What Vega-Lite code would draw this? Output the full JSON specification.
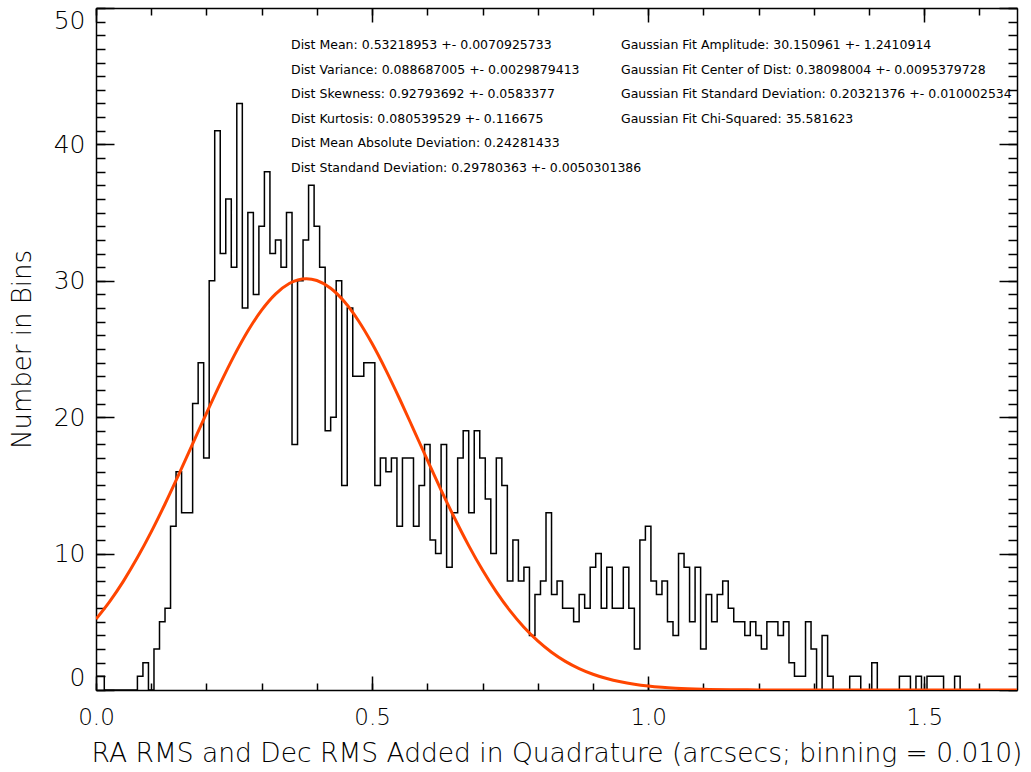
{
  "$schema": "https://vega.github.io/schema/vega-lite/v6.json",
  "width": 921,
  "height": 682,
  "autosize": {"type": "none"},
  "padding": {"left": 96, "top": 8, "right": 14, "bottom": 82},
  "background": "white",
  "config": {
    "view": {"stroke": null},
    "axis": {
      "grid": false,
      "domainColor": "black",
      "domainWidth": 1.5,
      "tickColor": "black",
      "tickWidth": 1.5,
      "labelColor": "black",
      "titleColor": "black",
      "labelFont": "DejaVu Sans",
      "titleFont": "DejaVu Sans",
      "labelFontWeight": 200,
      "titleFontWeight": 200,
      "labelOverlap": false,
      "labelFlush": false,
      "zindex": 1
    }
  },
  "datasets": {
    "hist": [
      {"arcsec": 0.00, "count": 1}, {"arcsec": 0.01, "count": 1}, {"arcsec": 0.02, "count": 0},
      {"arcsec": 0.03, "count": 0}, {"arcsec": 0.04, "count": 0}, {"arcsec": 0.05, "count": 0},
      {"arcsec": 0.06, "count": 0}, {"arcsec": 0.07, "count": 0}, {"arcsec": 0.08, "count": 1},
      {"arcsec": 0.09, "count": 2}, {"arcsec": 0.10, "count": 0}, {"arcsec": 0.11, "count": 3},
      {"arcsec": 0.12, "count": 5}, {"arcsec": 0.13, "count": 6}, {"arcsec": 0.14, "count": 12},
      {"arcsec": 0.15, "count": 16}, {"arcsec": 0.16, "count": 13}, {"arcsec": 0.17, "count": 13},
      {"arcsec": 0.18, "count": 21}, {"arcsec": 0.19, "count": 24}, {"arcsec": 0.20, "count": 17},
      {"arcsec": 0.21, "count": 30}, {"arcsec": 0.22, "count": 41}, {"arcsec": 0.23, "count": 32},
      {"arcsec": 0.24, "count": 36}, {"arcsec": 0.25, "count": 31}, {"arcsec": 0.26, "count": 43},
      {"arcsec": 0.27, "count": 28}, {"arcsec": 0.28, "count": 35}, {"arcsec": 0.29, "count": 29},
      {"arcsec": 0.30, "count": 34}, {"arcsec": 0.31, "count": 38}, {"arcsec": 0.32, "count": 32},
      {"arcsec": 0.33, "count": 33}, {"arcsec": 0.34, "count": 31}, {"arcsec": 0.35, "count": 35},
      {"arcsec": 0.36, "count": 18}, {"arcsec": 0.37, "count": 30}, {"arcsec": 0.38, "count": 33},
      {"arcsec": 0.39, "count": 37}, {"arcsec": 0.40, "count": 34}, {"arcsec": 0.41, "count": 31},
      {"arcsec": 0.42, "count": 19}, {"arcsec": 0.43, "count": 20}, {"arcsec": 0.44, "count": 30},
      {"arcsec": 0.45, "count": 15}, {"arcsec": 0.46, "count": 28}, {"arcsec": 0.47, "count": 23},
      {"arcsec": 0.48, "count": 23}, {"arcsec": 0.49, "count": 24}, {"arcsec": 0.50, "count": 24},
      {"arcsec": 0.51, "count": 15}, {"arcsec": 0.52, "count": 17}, {"arcsec": 0.53, "count": 16},
      {"arcsec": 0.54, "count": 17}, {"arcsec": 0.55, "count": 12}, {"arcsec": 0.56, "count": 17},
      {"arcsec": 0.57, "count": 17}, {"arcsec": 0.58, "count": 12}, {"arcsec": 0.59, "count": 15},
      {"arcsec": 0.60, "count": 18}, {"arcsec": 0.61, "count": 11}, {"arcsec": 0.62, "count": 10},
      {"arcsec": 0.63, "count": 18}, {"arcsec": 0.64, "count": 9}, {"arcsec": 0.65, "count": 13},
      {"arcsec": 0.66, "count": 17}, {"arcsec": 0.67, "count": 19}, {"arcsec": 0.68, "count": 13},
      {"arcsec": 0.69, "count": 19}, {"arcsec": 0.70, "count": 17}, {"arcsec": 0.71, "count": 14},
      {"arcsec": 0.72, "count": 10}, {"arcsec": 0.73, "count": 17}, {"arcsec": 0.74, "count": 15},
      {"arcsec": 0.75, "count": 8}, {"arcsec": 0.76, "count": 11}, {"arcsec": 0.77, "count": 8},
      {"arcsec": 0.78, "count": 9}, {"arcsec": 0.79, "count": 4}, {"arcsec": 0.80, "count": 7},
      {"arcsec": 0.81, "count": 8}, {"arcsec": 0.82, "count": 13}, {"arcsec": 0.83, "count": 7},
      {"arcsec": 0.84, "count": 8}, {"arcsec": 0.85, "count": 6}, {"arcsec": 0.86, "count": 6},
      {"arcsec": 0.87, "count": 5}, {"arcsec": 0.88, "count": 7}, {"arcsec": 0.89, "count": 6},
      {"arcsec": 0.90, "count": 9}, {"arcsec": 0.91, "count": 10}, {"arcsec": 0.92, "count": 6},
      {"arcsec": 0.93, "count": 9}, {"arcsec": 0.94, "count": 6}, {"arcsec": 0.95, "count": 6},
      {"arcsec": 0.96, "count": 9}, {"arcsec": 0.97, "count": 6}, {"arcsec": 0.98, "count": 3},
      {"arcsec": 0.99, "count": 11}, {"arcsec": 1.00, "count": 12}, {"arcsec": 1.01, "count": 8},
      {"arcsec": 1.02, "count": 7}, {"arcsec": 1.03, "count": 8}, {"arcsec": 1.04, "count": 5},
      {"arcsec": 1.05, "count": 4}, {"arcsec": 1.06, "count": 10}, {"arcsec": 1.07, "count": 9},
      {"arcsec": 1.08, "count": 5}, {"arcsec": 1.09, "count": 9}, {"arcsec": 1.10, "count": 3},
      {"arcsec": 1.11, "count": 7}, {"arcsec": 1.12, "count": 5}, {"arcsec": 1.13, "count": 7},
      {"arcsec": 1.14, "count": 8}, {"arcsec": 1.15, "count": 6}, {"arcsec": 1.16, "count": 5},
      {"arcsec": 1.17, "count": 5}, {"arcsec": 1.18, "count": 4}, {"arcsec": 1.19, "count": 5},
      {"arcsec": 1.20, "count": 4}, {"arcsec": 1.21, "count": 3}, {"arcsec": 1.22, "count": 5},
      {"arcsec": 1.23, "count": 5}, {"arcsec": 1.24, "count": 4}, {"arcsec": 1.25, "count": 5},
      {"arcsec": 1.26, "count": 2}, {"arcsec": 1.27, "count": 1}, {"arcsec": 1.28, "count": 1},
      {"arcsec": 1.29, "count": 5}, {"arcsec": 1.30, "count": 3}, {"arcsec": 1.31, "count": 0},
      {"arcsec": 1.32, "count": 4}, {"arcsec": 1.33, "count": 1}, {"arcsec": 1.34, "count": 0},
      {"arcsec": 1.35, "count": 0}, {"arcsec": 1.36, "count": 0}, {"arcsec": 1.37, "count": 1},
      {"arcsec": 1.38, "count": 1}, {"arcsec": 1.39, "count": 0}, {"arcsec": 1.40, "count": 0},
      {"arcsec": 1.41, "count": 2}, {"arcsec": 1.42, "count": 0}, {"arcsec": 1.43, "count": 0},
      {"arcsec": 1.44, "count": 0}, {"arcsec": 1.45, "count": 0}, {"arcsec": 1.46, "count": 1},
      {"arcsec": 1.47, "count": 1}, {"arcsec": 1.48, "count": 0}, {"arcsec": 1.49, "count": 1},
      {"arcsec": 1.50, "count": 0}, {"arcsec": 1.51, "count": 1}, {"arcsec": 1.52, "count": 1},
      {"arcsec": 1.53, "count": 1}, {"arcsec": 1.54, "count": 0}, {"arcsec": 1.55, "count": 0},
      {"arcsec": 1.56, "count": 1}, {"arcsec": 1.57, "count": 0}, {"arcsec": 1.58, "count": 0},
      {"arcsec": 1.59, "count": 0}, {"arcsec": 1.60, "count": 0}, {"arcsec": 1.61, "count": 0},
      {"arcsec": 1.62, "count": 0}, {"arcsec": 1.63, "count": 0}, {"arcsec": 1.64, "count": 0},
      {"arcsec": 1.65, "count": 0}, {"arcsec": 1.66, "count": 0}, {"arcsec": 1.67, "count": 0}
    ],
    "fit": [
      {"arcsec": 0.000, "model": 5.200}, {"arcsec": 0.025, "model": 6.500}, {"arcsec": 0.050, "model": 8.004},
      {"arcsec": 0.075, "model": 9.706}, {"arcsec": 0.100, "model": 11.591}, {"arcsec": 0.125, "model": 13.638},
      {"arcsec": 0.150, "model": 15.804}, {"arcsec": 0.175, "model": 18.039}, {"arcsec": 0.200, "model": 20.281},
      {"arcsec": 0.225, "model": 22.459}, {"arcsec": 0.250, "model": 24.496}, {"arcsec": 0.275, "model": 26.317},
      {"arcsec": 0.300, "model": 27.850}, {"arcsec": 0.325, "model": 29.028}, {"arcsec": 0.350, "model": 29.803},
      {"arcsec": 0.381, "model": 30.151}, {"arcsec": 0.400, "model": 30.019}, {"arcsec": 0.425, "model": 29.452},
      {"arcsec": 0.450, "model": 28.461}, {"arcsec": 0.475, "model": 27.091}, {"arcsec": 0.500, "model": 25.399},
      {"arcsec": 0.525, "model": 23.455}, {"arcsec": 0.550, "model": 21.334}, {"arcsec": 0.575, "model": 19.114},
      {"arcsec": 0.600, "model": 16.868}, {"arcsec": 0.625, "model": 14.662}, {"arcsec": 0.650, "model": 12.552},
      {"arcsec": 0.675, "model": 10.586}, {"arcsec": 0.700, "model": 8.793}, {"arcsec": 0.725, "model": 7.194},
      {"arcsec": 0.750, "model": 5.798}, {"arcsec": 0.775, "model": 4.601}, {"arcsec": 0.800, "model": 3.597},
      {"arcsec": 0.825, "model": 2.770}, {"arcsec": 0.850, "model": 2.101}, {"arcsec": 0.875, "model": 1.570},
      {"arcsec": 0.900, "model": 1.156}, {"arcsec": 0.925, "model": 0.838}, {"arcsec": 0.950, "model": 0.598},
      {"arcsec": 0.975, "model": 0.421}, {"arcsec": 1.000, "model": 0.291}, {"arcsec": 1.025, "model": 0.199},
      {"arcsec": 1.050, "model": 0.134}, {"arcsec": 1.100, "model": 0.058}, {"arcsec": 1.150, "model": 0.023},
      {"arcsec": 1.200, "model": 0.009}, {"arcsec": 1.300, "model": 0.001}, {"arcsec": 1.400, "model": 0.000},
      {"arcsec": 1.500, "model": 0.000}, {"arcsec": 1.600, "model": 0.000}, {"arcsec": 1.668, "model": 0.000}
    ],
    "stats": [
      {"group": "sample", "row": 1, "text": "Dist Mean: 0.53218953 +- 0.0070925733"},
      {"group": "sample", "row": 2, "text": "Dist Variance: 0.088687005 +- 0.0029879413"},
      {"group": "sample", "row": 3, "text": "Dist Skewness: 0.92793692 +- 0.0583377"},
      {"group": "sample", "row": 4, "text": "Dist Kurtosis: 0.080539529 +- 0.116675"},
      {"group": "sample", "row": 5, "text": "Dist Mean Absolute Deviation: 0.24281433"},
      {"group": "sample", "row": 6, "text": "Dist Standand Deviation: 0.29780363 +- 0.0050301386"},
      {"group": "fit", "row": 1, "text": "Gaussian Fit Amplitude: 30.150961 +- 1.2410914"},
      {"group": "fit", "row": 2, "text": "Gaussian Fit Center of Dist: 0.38098004 +- 0.0095379728"},
      {"group": "fit", "row": 3, "text": "Gaussian Fit Standard Deviation: 0.20321376 +- 0.010002534"},
      {"group": "fit", "row": 4, "text": "Gaussian Fit Chi-Squared: 35.581623"}
    ]
  },
  "layer": [
    {
      "data": {"name": "hist"},
      "mark": {"type": "line", "interpolate": "step", "color": "black", "strokeWidth": 1.5, "clip": true},
      "encoding": {
        "x": {
          "field": "arcsec", "type": "quantitative",
          "scale": {"domain": [0, 1.668], "nice": false, "zero": false},
          "axis": {
            "orient": "top",
            "offset": -682,
            "values": [0, 0.5, 1, 1.5],
            "format": ".1f",
            "tickSize": 14,
            "labelPadding": -30,
            "labelBaseline": "top",
            "labelFontSize": 23,
            "title": "RA RMS and Dec RMS Added in Quadrature (arcsecs; binning = 0.010)",
            "titleFontSize": 26.5,
            "titleY": 71,
            "titleBaseline": "alphabetic"
          }
        },
        "y": {
          "field": "count", "type": "quantitative",
          "scale": {"domain": [0, 50], "nice": false, "zero": true},
          "axis": {
            "orient": "right",
            "offset": -921,
            "values": [0, 10, 20, 30, 40, 50],
            "format": "d",
            "tickSize": 18,
            "labelPadding": -29,
            "labelAlign": "right",
            "labelFlush": true,
            "labelFlushOffset": 0,
            "labelFontSize": 25,
            "title": "Number in Bins",
            "titleFontSize": 26,
            "titleAngle": 270,
            "titleX": -74,
            "titleBaseline": "middle"
          }
        }
      }
    },
    {
      "data": {"name": "fit"},
      "mark": {"type": "line", "interpolate": "monotone", "color": "#ff4500", "strokeWidth": 3, "clip": true},
      "encoding": {
        "x": {
          "field": "arcsec", "type": "quantitative",
          "scale": {"domain": [0, 1.668], "nice": false, "zero": false},
          "axis": {"orient": "bottom", "offset": -682, "values": [0, 0.5, 1, 1.5], "tickSize": 14, "labels": false, "title": null}
        },
        "y": {
          "field": "model", "type": "quantitative",
          "scale": {"domain": [0, 50], "nice": false, "zero": true},
          "axis": {"orient": "left", "offset": -921, "values": [0, 10, 20, 30, 40, 50], "tickSize": 18, "labels": false, "title": null}
        }
      }
    },
    {
      "data": {"name": "hist"},
      "mark": {"type": "line", "interpolate": "step", "strokeOpacity": 0, "clip": true},
      "encoding": {
        "x": {
          "field": "arcsec", "type": "quantitative",
          "scale": {"domain": [0, 1.668], "nice": false, "zero": false},
          "axis": {
            "orient": "top", "offset": -682,
            "values": [0, 0.1, 0.2, 0.3, 0.4, 0.5, 0.6, 0.7, 0.8, 0.9, 1, 1.1, 1.2, 1.3, 1.4, 1.5, 1.6],
            "tickSize": 7, "labels": false, "domain": false, "title": null
          }
        },
        "y": {
          "field": "count", "type": "quantitative",
          "scale": {"domain": [0, 50], "nice": false, "zero": true},
          "axis": {
            "orient": "right", "offset": -921,
            "values": [0, 1, 2, 3, 4, 5, 6, 7, 8, 9, 10, 11, 12, 13, 14, 15, 16, 17, 18, 19, 20, 21, 22, 23, 24, 25, 26, 27, 28, 29, 30, 31, 32, 33, 34, 35, 36, 37, 38, 39, 40, 41, 42, 43, 44, 45, 46, 47, 48, 49, 50],
            "tickSize": 9, "labels": false, "domain": false, "title": null
          }
        }
      }
    },
    {
      "data": {"name": "fit"},
      "mark": {"type": "line", "interpolate": "monotone", "strokeOpacity": 0, "clip": true},
      "encoding": {
        "x": {
          "field": "arcsec", "type": "quantitative",
          "scale": {"domain": [0, 1.668], "nice": false, "zero": false},
          "axis": {
            "orient": "bottom", "offset": -682,
            "values": [0, 0.1, 0.2, 0.3, 0.4, 0.5, 0.6, 0.7, 0.8, 0.9, 1, 1.1, 1.2, 1.3, 1.4, 1.5, 1.6],
            "tickSize": 7, "labels": false, "domain": false, "title": null
          }
        },
        "y": {
          "field": "model", "type": "quantitative",
          "scale": {"domain": [0, 50], "nice": false, "zero": true},
          "axis": {
            "orient": "left", "offset": -921,
            "values": [0, 1, 2, 3, 4, 5, 6, 7, 8, 9, 10, 11, 12, 13, 14, 15, 16, 17, 18, 19, 20, 21, 22, 23, 24, 25, 26, 27, 28, 29, 30, 31, 32, 33, 34, 35, 36, 37, 38, 39, 40, 41, 42, 43, 44, 45, 46, 47, 48, 49, 50],
            "tickSize": 9, "labels": false, "domain": false, "title": null
          }
        }
      }
    },
    {
      "data": {"name": "stats"},
      "mark": {"type": "text", "align": "left", "baseline": "middle", "font": "DejaVu Sans", "fontSize": 12.5, "color": "black"},
      "encoding": {
        "x": {"field": "group", "type": "nominal", "scale": {"type": "point", "domain": ["sample", "fit"], "range": [195, 525], "padding": 0}, "axis": null},
        "y": {"field": "row", "type": "ordinal", "scale": {"type": "point", "domain": [1, 2, 3, 4, 5, 6], "range": [37, 159.5], "padding": 0}, "axis": null},
        "text": {"field": "text", "type": "nominal"}
      }
    }
  ],
  "resolve": {
    "scale": {"x": "independent", "y": "independent"},
    "axis": {"x": "independent", "y": "independent"}
  }
}
